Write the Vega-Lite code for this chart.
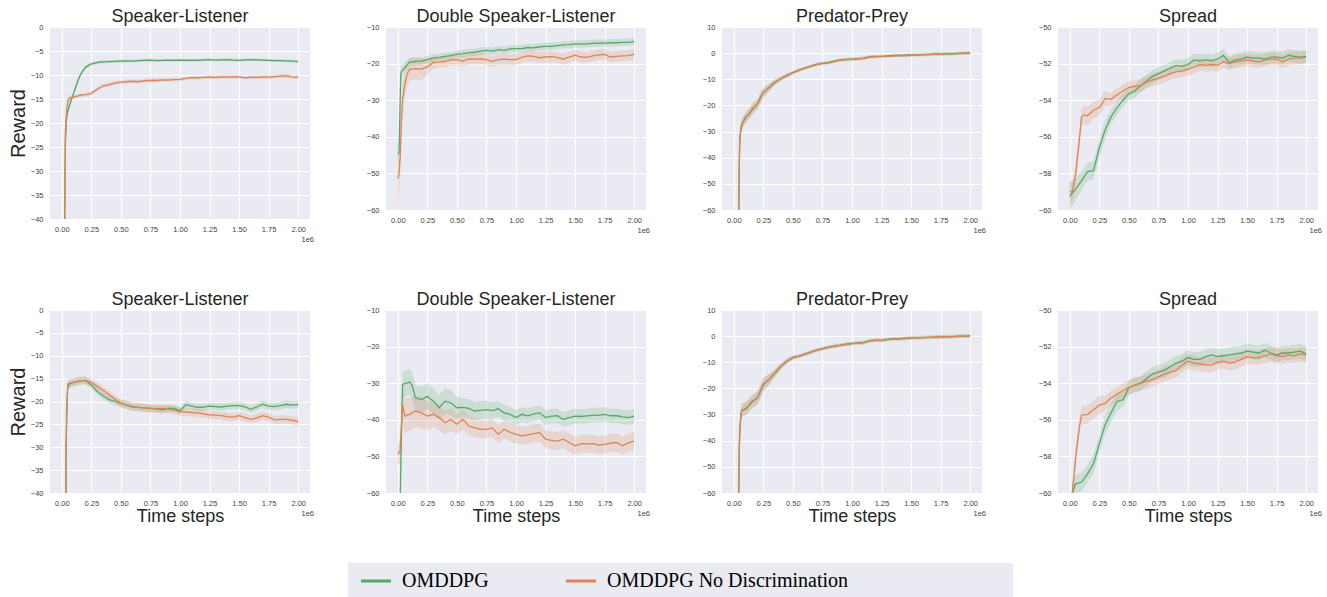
{
"$schema": "https://vega.github.io/schema/vega-lite/v6.json",
"background": "white",
"padding": {"left": 8, "top": 8, "right": 4, "bottom": 0},
"config": {
 "view": {"fill": "#EAEAF2", "stroke": null},
 "axis": {"grid": true, "gridColor": "#ffffff", "gridWidth": 1, "domain": false, "ticks": false, "labelOverlap": false, "labelFont": "Liberation Sans", "labelFontSize": 7.5, "labelColor": "#444444", "titleFont": "Liberation Sans", "titleFontWeight": "normal", "titleColor": "#262626"},
 "axisX": {"labelPadding": 6, "labelOverlap": false},
 "axisY": {"labelPadding": 7, "labelOverlap": false},
 "title": {"font": "Liberation Sans", "fontSize": 18, "fontWeight": "normal", "color": "#262626", "offset": -3, "baseline": "alphabetic", "frame": "group"},
 "legend": {"orient": "none", "legendX": 298, "legendY": 536, "direction": "horizontal", "fillColor": "#EAEAF2", "padding": 8, "symbolType": "M-1,0H5", "symbolSize": 100, "symbolStrokeWidth": 3, "symbolOpacity": 1, "labelFont": "Liberation Serif", "labelFontSize": 20, "labelColor": "#000000", "labelOffset": 26, "labelLimit": 400, "columnPadding": 71, "titleOrient": "right", "titlePadding": 157, "titleFontSize": 20, "titleFont": "Liberation Serif"}
},
"datasets": {"runs": [
{"p":1,"s":"A","x":0.02,"y":-55,"lo":-57,"hi":-53},
{"p":1,"s":"A","x":0.03,"y":-24,"lo":-26,"hi":-22},
{"p":1,"s":"A","x":0.04,"y":-19,"lo":-20.5,"hi":-17.5},
{"p":1,"s":"A","x":0.05,"y":-17.5,"lo":-18.5,"hi":-16.5},
{"p":1,"s":"A","x":0.07,"y":-15.9,"lo":-16.6,"hi":-15.2},
{"p":1,"s":"A","x":0.1,"y":-13.8,"lo":-14.4,"hi":-13.2},
{"p":1,"s":"A","x":0.13,"y":-11.6,"lo":-12.1,"hi":-11.1},
{"p":1,"s":"A","x":0.16,"y":-9.8,"lo":-10.2,"hi":-9.4},
{"p":1,"s":"A","x":0.2,"y":-8.4,"lo":-8.8,"hi":-8.0},
{"p":1,"s":"A","x":0.24,"y":-7.8,"lo":-8.1,"hi":-7.5},
{"p":1,"s":"A","x":0.28,"y":-7.5,"lo":-7.8,"hi":-7.2},
{"p":1,"s":"A","x":0.32,"y":-7.3,"lo":-7.6,"hi":-7.0},
{"p":1,"s":"A","x":0.36,"y":-7.25,"lo":-7.55,"hi":-6.95},
{"p":1,"s":"A","x":0.4,"y":-7.2,"lo":-7.5,"hi":-6.9},
{"p":1,"s":"A","x":0.45,"y":-7.15,"lo":-7.45,"hi":-6.85},
{"p":1,"s":"A","x":0.5,"y":-7.1,"lo":-7.4,"hi":-6.8},
{"p":1,"s":"A","x":0.55,"y":-7.05,"lo":-7.35,"hi":-6.75},
{"p":1,"s":"A","x":0.6,"y":-7.1,"lo":-7.4,"hi":-6.8},
{"p":1,"s":"A","x":0.65,"y":-7.0,"lo":-7.3,"hi":-6.7},
{"p":1,"s":"A","x":0.7,"y":-6.95,"lo":-7.25,"hi":-6.65},
{"p":1,"s":"A","x":0.75,"y":-6.9,"lo":-7.2,"hi":-6.6},
{"p":1,"s":"A","x":0.8,"y":-7.0,"lo":-7.3,"hi":-6.7},
{"p":1,"s":"A","x":0.85,"y":-6.95,"lo":-7.25,"hi":-6.65},
{"p":1,"s":"A","x":0.9,"y":-6.9,"lo":-7.2,"hi":-6.6},
{"p":1,"s":"A","x":0.95,"y":-6.95,"lo":-7.25,"hi":-6.65},
{"p":1,"s":"A","x":1.0,"y":-6.9,"lo":-7.2,"hi":-6.6},
{"p":1,"s":"A","x":1.05,"y":-6.95,"lo":-7.25,"hi":-6.65},
{"p":1,"s":"A","x":1.1,"y":-6.9,"lo":-7.2,"hi":-6.6},
{"p":1,"s":"A","x":1.15,"y":-6.95,"lo":-7.25,"hi":-6.65},
{"p":1,"s":"A","x":1.2,"y":-6.85,"lo":-7.15,"hi":-6.55},
{"p":1,"s":"A","x":1.25,"y":-6.8,"lo":-7.1,"hi":-6.5},
{"p":1,"s":"A","x":1.3,"y":-6.9,"lo":-7.2,"hi":-6.6},
{"p":1,"s":"A","x":1.35,"y":-6.85,"lo":-7.15,"hi":-6.55},
{"p":1,"s":"A","x":1.4,"y":-6.8,"lo":-7.1,"hi":-6.5},
{"p":1,"s":"A","x":1.45,"y":-6.9,"lo":-7.2,"hi":-6.6},
{"p":1,"s":"A","x":1.5,"y":-6.95,"lo":-7.25,"hi":-6.65},
{"p":1,"s":"A","x":1.55,"y":-6.85,"lo":-7.15,"hi":-6.55},
{"p":1,"s":"A","x":1.6,"y":-6.8,"lo":-7.1,"hi":-6.5},
{"p":1,"s":"A","x":1.65,"y":-6.85,"lo":-7.15,"hi":-6.55},
{"p":1,"s":"A","x":1.7,"y":-6.9,"lo":-7.2,"hi":-6.6},
{"p":1,"s":"A","x":1.75,"y":-6.95,"lo":-7.25,"hi":-6.65},
{"p":1,"s":"A","x":1.8,"y":-7.0,"lo":-7.3,"hi":-6.7},
{"p":1,"s":"A","x":1.85,"y":-7.0,"lo":-7.3,"hi":-6.7},
{"p":1,"s":"A","x":1.9,"y":-7.05,"lo":-7.35,"hi":-6.75},
{"p":1,"s":"A","x":1.95,"y":-7.1,"lo":-7.4,"hi":-6.8},
{"p":1,"s":"A","x":2.0,"y":-7.2,"lo":-7.5,"hi":-6.9},
{"p":1,"s":"B","x":0.02,"y":-55,"lo":-57,"hi":-53},
{"p":1,"s":"B","x":0.03,"y":-22,"lo":-24,"hi":-20},
{"p":1,"s":"B","x":0.04,"y":-17.5,"lo":-18.7,"hi":-16.3},
{"p":1,"s":"B","x":0.05,"y":-15.5,"lo":-16.3,"hi":-14.7},
{"p":1,"s":"B","x":0.06,"y":-14.9,"lo":-15.5,"hi":-14.3},
{"p":1,"s":"B","x":0.08,"y":-14.7,"lo":-15.2,"hi":-14.2},
{"p":1,"s":"B","x":0.1,"y":-14.6,"lo":-15.0,"hi":-14.2},
{"p":1,"s":"B","x":0.13,"y":-14.4,"lo":-14.8,"hi":-14.0},
{"p":1,"s":"B","x":0.16,"y":-14.2,"lo":-14.6,"hi":-13.8},
{"p":1,"s":"B","x":0.2,"y":-14.1,"lo":-14.5,"hi":-13.7},
{"p":1,"s":"B","x":0.23,"y":-14.0,"lo":-14.4,"hi":-13.6},
{"p":1,"s":"B","x":0.25,"y":-13.8,"lo":-14.2,"hi":-13.4},
{"p":1,"s":"B","x":0.28,"y":-13.3,"lo":-13.7,"hi":-12.9},
{"p":1,"s":"B","x":0.31,"y":-12.8,"lo":-13.2,"hi":-12.4},
{"p":1,"s":"B","x":0.35,"y":-12.3,"lo":-12.7,"hi":-11.9},
{"p":1,"s":"B","x":0.4,"y":-12.0,"lo":-12.4,"hi":-11.6},
{"p":1,"s":"B","x":0.45,"y":-11.7,"lo":-12.1,"hi":-11.3},
{"p":1,"s":"B","x":0.5,"y":-11.5,"lo":-11.9,"hi":-11.1},
{"p":1,"s":"B","x":0.55,"y":-11.4,"lo":-11.8,"hi":-11.0},
{"p":1,"s":"B","x":0.6,"y":-11.3,"lo":-11.7,"hi":-10.9},
{"p":1,"s":"B","x":0.65,"y":-11.4,"lo":-11.8,"hi":-11.0},
{"p":1,"s":"B","x":0.7,"y":-11.2,"lo":-11.6,"hi":-10.8},
{"p":1,"s":"B","x":0.75,"y":-11.1,"lo":-11.5,"hi":-10.7},
{"p":1,"s":"B","x":0.8,"y":-11.15,"lo":-11.55,"hi":-10.75},
{"p":1,"s":"B","x":0.85,"y":-11.0,"lo":-11.4,"hi":-10.6},
{"p":1,"s":"B","x":0.9,"y":-11.05,"lo":-11.45,"hi":-10.65},
{"p":1,"s":"B","x":0.95,"y":-10.95,"lo":-11.35,"hi":-10.55},
{"p":1,"s":"B","x":1.0,"y":-10.9,"lo":-11.3,"hi":-10.5},
{"p":1,"s":"B","x":1.05,"y":-10.7,"lo":-11.1,"hi":-10.3},
{"p":1,"s":"B","x":1.1,"y":-10.55,"lo":-10.95,"hi":-10.15},
{"p":1,"s":"B","x":1.15,"y":-10.6,"lo":-11.0,"hi":-10.2},
{"p":1,"s":"B","x":1.2,"y":-10.5,"lo":-10.9,"hi":-10.1},
{"p":1,"s":"B","x":1.25,"y":-10.45,"lo":-10.85,"hi":-10.05},
{"p":1,"s":"B","x":1.3,"y":-10.5,"lo":-10.9,"hi":-10.1},
{"p":1,"s":"B","x":1.35,"y":-10.4,"lo":-10.8,"hi":-10.0},
{"p":1,"s":"B","x":1.4,"y":-10.45,"lo":-10.85,"hi":-10.05},
{"p":1,"s":"B","x":1.45,"y":-10.35,"lo":-10.75,"hi":-9.95},
{"p":1,"s":"B","x":1.5,"y":-10.4,"lo":-10.8,"hi":-10.0},
{"p":1,"s":"B","x":1.55,"y":-10.6,"lo":-11.0,"hi":-10.2},
{"p":1,"s":"B","x":1.6,"y":-10.45,"lo":-10.85,"hi":-10.05},
{"p":1,"s":"B","x":1.65,"y":-10.5,"lo":-10.9,"hi":-10.1},
{"p":1,"s":"B","x":1.7,"y":-10.4,"lo":-10.8,"hi":-10.0},
{"p":1,"s":"B","x":1.75,"y":-10.45,"lo":-10.85,"hi":-10.05},
{"p":1,"s":"B","x":1.8,"y":-10.35,"lo":-10.75,"hi":-9.95},
{"p":1,"s":"B","x":1.85,"y":-10.25,"lo":-10.65,"hi":-9.85},
{"p":1,"s":"B","x":1.9,"y":-10.2,"lo":-10.6,"hi":-9.8},
{"p":1,"s":"B","x":1.95,"y":-10.4,"lo":-10.8,"hi":-10.0},
{"p":1,"s":"B","x":2.0,"y":-10.5,"lo":-10.9,"hi":-10.1},
{"p":2,"s":"A","x":0.0,"y":-44.8,"lo":-47.8,"hi":-41.8},
{"p":2,"s":"A","x":0.01,"y":-44.5,"lo":-47.5,"hi":-41.5},
{"p":2,"s":"A","x":0.02,"y":-30,"lo":-33,"hi":-27},
{"p":2,"s":"A","x":0.025,"y":-23,"lo":-25,"hi":-21},
{"p":2,"s":"A","x":0.03,"y":-22.2,"lo":-24,"hi":-20.4},
{"p":2,"s":"A","x":0.05,"y":-21.5,"lo":-23,"hi":-20},
{"p":2,"s":"A","x":0.07,"y":-20.6,"lo":-21.8,"hi":-19.4},
{"p":2,"s":"A","x":0.1,"y":-19.6,"lo":-20.8,"hi":-18.4},
{"p":2,"s":"A","x":0.15,"y":-19.4,"lo":-20.5,"hi":-18.3},
{"p":2,"s":"A","x":0.2,"y":-19.3,"lo":-20.3,"hi":-18.3},
{"p":2,"s":"A","x":0.25,"y":-18.9,"lo":-19.9,"hi":-17.9},
{"p":2,"s":"A","x":0.3,"y":-18.5,"lo":-19.5,"hi":-17.5},
{"p":2,"s":"A","x":0.35,"y":-18.3,"lo":-19.3,"hi":-17.3},
{"p":2,"s":"A","x":0.4,"y":-18.0,"lo":-19.0,"hi":-17.0},
{"p":2,"s":"A","x":0.45,"y":-17.8,"lo":-18.8,"hi":-16.8},
{"p":2,"s":"A","x":0.5,"y":-17.4,"lo":-18.4,"hi":-16.4},
{"p":2,"s":"A","x":0.55,"y":-17.3,"lo":-18.3,"hi":-16.3},
{"p":2,"s":"A","x":0.6,"y":-17.0,"lo":-18.0,"hi":-16.0},
{"p":2,"s":"A","x":0.65,"y":-16.9,"lo":-17.9,"hi":-15.9},
{"p":2,"s":"A","x":0.7,"y":-16.6,"lo":-17.6,"hi":-15.6},
{"p":2,"s":"A","x":0.75,"y":-16.4,"lo":-17.4,"hi":-15.4},
{"p":2,"s":"A","x":0.8,"y":-16.6,"lo":-17.6,"hi":-15.6},
{"p":2,"s":"A","x":0.85,"y":-16.2,"lo":-17.2,"hi":-15.2},
{"p":2,"s":"A","x":0.9,"y":-16.4,"lo":-17.4,"hi":-15.4},
{"p":2,"s":"A","x":0.95,"y":-16.0,"lo":-17.0,"hi":-15.0},
{"p":2,"s":"A","x":1.0,"y":-15.9,"lo":-16.9,"hi":-14.9},
{"p":2,"s":"A","x":1.05,"y":-15.9,"lo":-16.9,"hi":-14.9},
{"p":2,"s":"A","x":1.1,"y":-15.6,"lo":-16.6,"hi":-14.6},
{"p":2,"s":"A","x":1.15,"y":-15.7,"lo":-16.7,"hi":-14.7},
{"p":2,"s":"A","x":1.2,"y":-15.4,"lo":-16.4,"hi":-14.4},
{"p":2,"s":"A","x":1.25,"y":-15.3,"lo":-16.3,"hi":-14.3},
{"p":2,"s":"A","x":1.3,"y":-15.3,"lo":-16.3,"hi":-14.3},
{"p":2,"s":"A","x":1.35,"y":-15.1,"lo":-16.1,"hi":-14.1},
{"p":2,"s":"A","x":1.4,"y":-14.9,"lo":-15.9,"hi":-13.9},
{"p":2,"s":"A","x":1.45,"y":-14.8,"lo":-15.8,"hi":-13.8},
{"p":2,"s":"A","x":1.5,"y":-14.6,"lo":-15.6,"hi":-13.6},
{"p":2,"s":"A","x":1.55,"y":-14.7,"lo":-15.7,"hi":-13.7},
{"p":2,"s":"A","x":1.6,"y":-14.6,"lo":-15.6,"hi":-13.6},
{"p":2,"s":"A","x":1.65,"y":-14.5,"lo":-15.5,"hi":-13.5},
{"p":2,"s":"A","x":1.7,"y":-14.4,"lo":-15.4,"hi":-13.4},
{"p":2,"s":"A","x":1.75,"y":-14.4,"lo":-15.4,"hi":-13.4},
{"p":2,"s":"A","x":1.8,"y":-14.3,"lo":-15.3,"hi":-13.3},
{"p":2,"s":"A","x":1.85,"y":-14.3,"lo":-15.3,"hi":-13.3},
{"p":2,"s":"A","x":1.9,"y":-14.2,"lo":-15.2,"hi":-13.2},
{"p":2,"s":"A","x":1.95,"y":-14.2,"lo":-15.2,"hi":-13.2},
{"p":2,"s":"A","x":2.0,"y":-14.0,"lo":-15.0,"hi":-13.0},
{"p":2,"s":"B","x":0.0,"y":-51.4,"lo":-60,"hi":-45},
{"p":2,"s":"B","x":0.01,"y":-50,"lo":-58,"hi":-43},
{"p":2,"s":"B","x":0.02,"y":-45.5,"lo":-52,"hi":-39},
{"p":2,"s":"B","x":0.03,"y":-36,"lo":-42,"hi":-30},
{"p":2,"s":"B","x":0.04,"y":-30,"lo":-35,"hi":-25},
{"p":2,"s":"B","x":0.06,"y":-25.5,"lo":-29,"hi":-22},
{"p":2,"s":"B","x":0.08,"y":-22.8,"lo":-26,"hi":-19.6},
{"p":2,"s":"B","x":0.1,"y":-21.6,"lo":-24.6,"hi":-18.6},
{"p":2,"s":"B","x":0.15,"y":-21.4,"lo":-24.4,"hi":-18.4},
{"p":2,"s":"B","x":0.2,"y":-21.5,"lo":-24.5,"hi":-18.5},
{"p":2,"s":"B","x":0.25,"y":-20.9,"lo":-23,"hi":-18.8},
{"p":2,"s":"B","x":0.28,"y":-20.2,"lo":-22,"hi":-18.4},
{"p":2,"s":"B","x":0.3,"y":-19.7,"lo":-21.5,"hi":-17.9},
{"p":2,"s":"B","x":0.35,"y":-19.6,"lo":-21.1,"hi":-18.1},
{"p":2,"s":"B","x":0.4,"y":-19.4,"lo":-20.9,"hi":-17.9},
{"p":2,"s":"B","x":0.45,"y":-19.0,"lo":-20.5,"hi":-17.5},
{"p":2,"s":"B","x":0.5,"y":-18.9,"lo":-20.4,"hi":-17.4},
{"p":2,"s":"B","x":0.55,"y":-19.3,"lo":-20.8,"hi":-17.8},
{"p":2,"s":"B","x":0.6,"y":-18.7,"lo":-20.2,"hi":-17.2},
{"p":2,"s":"B","x":0.65,"y":-18.8,"lo":-20.3,"hi":-17.3},
{"p":2,"s":"B","x":0.7,"y":-18.7,"lo":-20.2,"hi":-17.2},
{"p":2,"s":"B","x":0.75,"y":-18.9,"lo":-20.4,"hi":-17.4},
{"p":2,"s":"B","x":0.8,"y":-19.4,"lo":-20.9,"hi":-17.9},
{"p":2,"s":"B","x":0.85,"y":-18.9,"lo":-20.4,"hi":-17.4},
{"p":2,"s":"B","x":0.9,"y":-18.8,"lo":-20.3,"hi":-17.3},
{"p":2,"s":"B","x":0.95,"y":-18.9,"lo":-20.4,"hi":-17.4},
{"p":2,"s":"B","x":1.0,"y":-18.9,"lo":-20.4,"hi":-17.4},
{"p":2,"s":"B","x":1.05,"y":-18.3,"lo":-19.8,"hi":-16.8},
{"p":2,"s":"B","x":1.1,"y":-17.9,"lo":-19.4,"hi":-16.4},
{"p":2,"s":"B","x":1.15,"y":-18.0,"lo":-19.5,"hi":-16.5},
{"p":2,"s":"B","x":1.2,"y":-18.4,"lo":-19.9,"hi":-16.9},
{"p":2,"s":"B","x":1.25,"y":-18.2,"lo":-19.7,"hi":-16.7},
{"p":2,"s":"B","x":1.3,"y":-18.1,"lo":-19.6,"hi":-16.6},
{"p":2,"s":"B","x":1.35,"y":-18.3,"lo":-19.8,"hi":-16.8},
{"p":2,"s":"B","x":1.4,"y":-18.8,"lo":-20.3,"hi":-17.3},
{"p":2,"s":"B","x":1.45,"y":-18.2,"lo":-19.7,"hi":-16.7},
{"p":2,"s":"B","x":1.5,"y":-17.7,"lo":-19.2,"hi":-16.2},
{"p":2,"s":"B","x":1.55,"y":-18.2,"lo":-19.7,"hi":-16.7},
{"p":2,"s":"B","x":1.6,"y":-18.3,"lo":-19.8,"hi":-16.8},
{"p":2,"s":"B","x":1.65,"y":-17.9,"lo":-19.4,"hi":-16.4},
{"p":2,"s":"B","x":1.7,"y":-17.6,"lo":-19.1,"hi":-16.1},
{"p":2,"s":"B","x":1.75,"y":-17.5,"lo":-19.0,"hi":-16.0},
{"p":2,"s":"B","x":1.8,"y":-18.2,"lo":-19.7,"hi":-16.7},
{"p":2,"s":"B","x":1.85,"y":-18.0,"lo":-19.5,"hi":-16.5},
{"p":2,"s":"B","x":1.9,"y":-17.9,"lo":-19.4,"hi":-16.4},
{"p":2,"s":"B","x":1.95,"y":-17.8,"lo":-19.3,"hi":-16.3},
{"p":2,"s":"B","x":2.0,"y":-17.5,"lo":-19.0,"hi":-16.0},
{"p":3,"s":"A","x":0.04,"y":-70,"lo":-72,"hi":-68},
{"p":3,"s":"A","x":0.045,"y":-45,"lo":-48,"hi":-42},
{"p":3,"s":"A","x":0.05,"y":-33,"lo":-36,"hi":-30},
{"p":3,"s":"A","x":0.06,"y":-28.5,"lo":-30.5,"hi":-26.5},
{"p":3,"s":"A","x":0.07,"y":-27,"lo":-29,"hi":-25},
{"p":3,"s":"A","x":0.1,"y":-24.5,"lo":-26.5,"hi":-22.5},
{"p":3,"s":"A","x":0.13,"y":-23.3,"lo":-25.3,"hi":-21.3},
{"p":3,"s":"A","x":0.16,"y":-21.4,"lo":-23.4,"hi":-19.4},
{"p":3,"s":"A","x":0.2,"y":-19.4,"lo":-21.4,"hi":-17.4},
{"p":3,"s":"A","x":0.23,"y":-16.5,"lo":-18.5,"hi":-14.5},
{"p":3,"s":"A","x":0.25,"y":-15.2,"lo":-17,"hi":-13.4},
{"p":3,"s":"A","x":0.3,"y":-13,"lo":-14.5,"hi":-11.5},
{"p":3,"s":"A","x":0.35,"y":-11.1,"lo":-12.2,"hi":-10},
{"p":3,"s":"A","x":0.4,"y":-9.7,"lo":-10.6,"hi":-8.8},
{"p":3,"s":"A","x":0.45,"y":-8.5,"lo":-9.3,"hi":-7.7},
{"p":3,"s":"A","x":0.5,"y":-7.4,"lo":-8.1,"hi":-6.7},
{"p":3,"s":"A","x":0.55,"y":-6.6,"lo":-7.2,"hi":-6.0},
{"p":3,"s":"A","x":0.6,"y":-5.7,"lo":-6.3,"hi":-5.1},
{"p":3,"s":"A","x":0.65,"y":-5.0,"lo":-5.6,"hi":-4.4},
{"p":3,"s":"A","x":0.7,"y":-4.3,"lo":-4.9,"hi":-3.7},
{"p":3,"s":"A","x":0.75,"y":-3.9,"lo":-4.5,"hi":-3.3},
{"p":3,"s":"A","x":0.8,"y":-3.6,"lo":-4.2,"hi":-3.0},
{"p":3,"s":"A","x":0.85,"y":-3.1,"lo":-3.7,"hi":-2.5},
{"p":3,"s":"A","x":0.9,"y":-2.6,"lo":-3.2,"hi":-2.0},
{"p":3,"s":"A","x":0.95,"y":-2.5,"lo":-3.1,"hi":-1.9},
{"p":3,"s":"A","x":1.0,"y":-2.3,"lo":-2.9,"hi":-1.7},
{"p":3,"s":"A","x":1.05,"y":-2.2,"lo":-2.8,"hi":-1.6},
{"p":3,"s":"A","x":1.1,"y":-1.9,"lo":-2.5,"hi":-1.3},
{"p":3,"s":"A","x":1.15,"y":-1.4,"lo":-2.0,"hi":-0.8},
{"p":3,"s":"A","x":1.2,"y":-1.3,"lo":-1.9,"hi":-0.7},
{"p":3,"s":"A","x":1.25,"y":-1.3,"lo":-1.9,"hi":-0.7},
{"p":3,"s":"A","x":1.3,"y":-1.1,"lo":-1.7,"hi":-0.5},
{"p":3,"s":"A","x":1.35,"y":-0.9,"lo":-1.5,"hi":-0.3},
{"p":3,"s":"A","x":1.4,"y":-0.9,"lo":-1.5,"hi":-0.3},
{"p":3,"s":"A","x":1.45,"y":-0.8,"lo":-1.4,"hi":-0.2},
{"p":3,"s":"A","x":1.5,"y":-0.7,"lo":-1.3,"hi":-0.1},
{"p":3,"s":"A","x":1.55,"y":-0.7,"lo":-1.3,"hi":-0.1},
{"p":3,"s":"A","x":1.6,"y":-0.6,"lo":-1.2,"hi":0.0},
{"p":3,"s":"A","x":1.65,"y":-0.5,"lo":-1.1,"hi":0.1},
{"p":3,"s":"A","x":1.7,"y":-0.4,"lo":-1.0,"hi":0.2},
{"p":3,"s":"A","x":1.75,"y":-0.4,"lo":-1.0,"hi":0.2},
{"p":3,"s":"A","x":1.8,"y":-0.3,"lo":-0.9,"hi":0.3},
{"p":3,"s":"A","x":1.85,"y":-0.3,"lo":-0.9,"hi":0.3},
{"p":3,"s":"A","x":1.9,"y":-0.1,"lo":-0.7,"hi":0.5},
{"p":3,"s":"A","x":1.95,"y":-0.1,"lo":-0.7,"hi":0.5},
{"p":3,"s":"A","x":2.0,"y":0.1,"lo":-0.5,"hi":0.7},
{"p":3,"s":"B","x":0.04,"y":-70,"lo":-72,"hi":-68},
{"p":3,"s":"B","x":0.045,"y":-46,"lo":-49,"hi":-43},
{"p":3,"s":"B","x":0.05,"y":-34,"lo":-37,"hi":-31},
{"p":3,"s":"B","x":0.06,"y":-28.8,"lo":-30.8,"hi":-26.8},
{"p":3,"s":"B","x":0.07,"y":-27.2,"lo":-29.2,"hi":-25.2},
{"p":3,"s":"B","x":0.1,"y":-24.8,"lo":-26.8,"hi":-22.8},
{"p":3,"s":"B","x":0.13,"y":-23.0,"lo":-25,"hi":-21},
{"p":3,"s":"B","x":0.16,"y":-21.0,"lo":-23,"hi":-19},
{"p":3,"s":"B","x":0.2,"y":-19.6,"lo":-21.6,"hi":-17.6},
{"p":3,"s":"B","x":0.23,"y":-16.8,"lo":-18.8,"hi":-14.8},
{"p":3,"s":"B","x":0.25,"y":-15.0,"lo":-16.8,"hi":-13.2},
{"p":3,"s":"B","x":0.3,"y":-13.2,"lo":-14.7,"hi":-11.7},
{"p":3,"s":"B","x":0.35,"y":-11.0,"lo":-12.1,"hi":-9.9},
{"p":3,"s":"B","x":0.4,"y":-9.8,"lo":-10.7,"hi":-8.9},
{"p":3,"s":"B","x":0.45,"y":-8.6,"lo":-9.4,"hi":-7.8},
{"p":3,"s":"B","x":0.5,"y":-7.5,"lo":-8.2,"hi":-6.8},
{"p":3,"s":"B","x":0.55,"y":-6.5,"lo":-7.1,"hi":-5.9},
{"p":3,"s":"B","x":0.6,"y":-5.8,"lo":-6.4,"hi":-5.2},
{"p":3,"s":"B","x":0.65,"y":-5.1,"lo":-5.7,"hi":-4.5},
{"p":3,"s":"B","x":0.7,"y":-4.4,"lo":-5.0,"hi":-3.8},
{"p":3,"s":"B","x":0.75,"y":-3.9,"lo":-4.5,"hi":-3.3},
{"p":3,"s":"B","x":0.8,"y":-3.7,"lo":-4.3,"hi":-3.1},
{"p":3,"s":"B","x":0.85,"y":-3.2,"lo":-3.8,"hi":-2.6},
{"p":3,"s":"B","x":0.9,"y":-2.7,"lo":-3.3,"hi":-2.1},
{"p":3,"s":"B","x":0.95,"y":-2.4,"lo":-3.0,"hi":-1.8},
{"p":3,"s":"B","x":1.0,"y":-2.4,"lo":-3.0,"hi":-1.8},
{"p":3,"s":"B","x":1.05,"y":-2.2,"lo":-2.8,"hi":-1.6},
{"p":3,"s":"B","x":1.1,"y":-2.0,"lo":-2.6,"hi":-1.4},
{"p":3,"s":"B","x":1.15,"y":-1.5,"lo":-2.1,"hi":-0.9},
{"p":3,"s":"B","x":1.2,"y":-1.3,"lo":-1.9,"hi":-0.7},
{"p":3,"s":"B","x":1.25,"y":-1.2,"lo":-1.8,"hi":-0.6},
{"p":3,"s":"B","x":1.3,"y":-1.2,"lo":-1.8,"hi":-0.6},
{"p":3,"s":"B","x":1.35,"y":-1.0,"lo":-1.6,"hi":-0.4},
{"p":3,"s":"B","x":1.4,"y":-0.9,"lo":-1.5,"hi":-0.3},
{"p":3,"s":"B","x":1.45,"y":-0.9,"lo":-1.5,"hi":-0.3},
{"p":3,"s":"B","x":1.5,"y":-0.8,"lo":-1.4,"hi":-0.2},
{"p":3,"s":"B","x":1.55,"y":-0.7,"lo":-1.3,"hi":-0.1},
{"p":3,"s":"B","x":1.6,"y":-0.6,"lo":-1.2,"hi":0.0},
{"p":3,"s":"B","x":1.65,"y":-0.6,"lo":-1.2,"hi":0.0},
{"p":3,"s":"B","x":1.7,"y":-0.4,"lo":-1.0,"hi":0.2},
{"p":3,"s":"B","x":1.75,"y":-0.4,"lo":-1.0,"hi":0.2},
{"p":3,"s":"B","x":1.8,"y":-0.3,"lo":-0.9,"hi":0.3},
{"p":3,"s":"B","x":1.85,"y":-0.2,"lo":-0.8,"hi":0.4},
{"p":3,"s":"B","x":1.9,"y":-0.2,"lo":-0.8,"hi":0.4},
{"p":3,"s":"B","x":1.95,"y":0.0,"lo":-0.6,"hi":0.6},
{"p":3,"s":"B","x":2.0,"y":0.0,"lo":-0.6,"hi":0.6},
{"p":4,"s":"A","x":0.0,"y":-59.25,"lo":-60.05,"hi":-58.45},
{"p":4,"s":"A","x":0.05,"y":-58.85,"lo":-59.45,"hi":-58.25},
{"p":4,"s":"A","x":0.1,"y":-58.4,"lo":-58.9,"hi":-57.9},
{"p":4,"s":"A","x":0.15,"y":-57.9,"lo":-58.4,"hi":-57.4},
{"p":4,"s":"A","x":0.2,"y":-57.85,"lo":-58.35,"hi":-57.35},
{"p":4,"s":"A","x":0.25,"y":-56.6,"lo":-57.1,"hi":-56.1},
{"p":4,"s":"A","x":0.3,"y":-55.6,"lo":-56.1,"hi":-55.1},
{"p":4,"s":"A","x":0.35,"y":-54.9,"lo":-55.3,"hi":-54.5},
{"p":4,"s":"A","x":0.4,"y":-54.4,"lo":-54.8,"hi":-54.0},
{"p":4,"s":"A","x":0.45,"y":-54.0,"lo":-54.35,"hi":-53.65},
{"p":4,"s":"A","x":0.5,"y":-53.65,"lo":-54.0,"hi":-53.3},
{"p":4,"s":"A","x":0.55,"y":-53.5,"lo":-53.85,"hi":-53.15},
{"p":4,"s":"A","x":0.6,"y":-53.2,"lo":-53.55,"hi":-52.85},
{"p":4,"s":"A","x":0.65,"y":-52.95,"lo":-53.3,"hi":-52.6},
{"p":4,"s":"A","x":0.7,"y":-52.7,"lo":-53.05,"hi":-52.35},
{"p":4,"s":"A","x":0.75,"y":-52.55,"lo":-52.9,"hi":-52.2},
{"p":4,"s":"A","x":0.8,"y":-52.4,"lo":-52.75,"hi":-52.05},
{"p":4,"s":"A","x":0.85,"y":-52.25,"lo":-52.6,"hi":-51.9},
{"p":4,"s":"A","x":0.9,"y":-52.1,"lo":-52.45,"hi":-51.75},
{"p":4,"s":"A","x":0.95,"y":-52.15,"lo":-52.5,"hi":-51.8},
{"p":4,"s":"A","x":1.0,"y":-52.05,"lo":-52.4,"hi":-51.7},
{"p":4,"s":"A","x":1.05,"y":-51.8,"lo":-52.15,"hi":-51.45},
{"p":4,"s":"A","x":1.1,"y":-51.85,"lo":-52.2,"hi":-51.5},
{"p":4,"s":"A","x":1.15,"y":-51.8,"lo":-52.15,"hi":-51.45},
{"p":4,"s":"A","x":1.2,"y":-51.85,"lo":-52.2,"hi":-51.5},
{"p":4,"s":"A","x":1.25,"y":-51.75,"lo":-52.1,"hi":-51.4},
{"p":4,"s":"A","x":1.3,"y":-51.55,"lo":-51.9,"hi":-51.2},
{"p":4,"s":"A","x":1.35,"y":-51.95,"lo":-52.3,"hi":-51.6},
{"p":4,"s":"A","x":1.4,"y":-51.8,"lo":-52.15,"hi":-51.45},
{"p":4,"s":"A","x":1.45,"y":-51.75,"lo":-52.1,"hi":-51.4},
{"p":4,"s":"A","x":1.5,"y":-51.65,"lo":-52.0,"hi":-51.3},
{"p":4,"s":"A","x":1.55,"y":-51.7,"lo":-52.05,"hi":-51.35},
{"p":4,"s":"A","x":1.6,"y":-51.7,"lo":-52.05,"hi":-51.35},
{"p":4,"s":"A","x":1.65,"y":-51.75,"lo":-52.1,"hi":-51.4},
{"p":4,"s":"A","x":1.7,"y":-51.65,"lo":-52.0,"hi":-51.3},
{"p":4,"s":"A","x":1.75,"y":-51.65,"lo":-52.0,"hi":-51.3},
{"p":4,"s":"A","x":1.8,"y":-51.7,"lo":-52.05,"hi":-51.35},
{"p":4,"s":"A","x":1.85,"y":-51.55,"lo":-51.9,"hi":-51.2},
{"p":4,"s":"A","x":1.9,"y":-51.6,"lo":-51.95,"hi":-51.25},
{"p":4,"s":"A","x":1.95,"y":-51.65,"lo":-52.0,"hi":-51.3},
{"p":4,"s":"A","x":2.0,"y":-51.6,"lo":-51.95,"hi":-51.25},
{"p":4,"s":"B","x":0.0,"y":-58.98,"lo":-59.6,"hi":-58.4},
{"p":4,"s":"B","x":0.02,"y":-59.03,"lo":-59.6,"hi":-58.5},
{"p":4,"s":"B","x":0.05,"y":-58.0,"lo":-58.6,"hi":-57.4},
{"p":4,"s":"B","x":0.08,"y":-56.2,"lo":-56.8,"hi":-55.6},
{"p":4,"s":"B","x":0.1,"y":-54.9,"lo":-55.4,"hi":-54.4},
{"p":4,"s":"B","x":0.12,"y":-54.8,"lo":-55.3,"hi":-54.3},
{"p":4,"s":"B","x":0.15,"y":-54.85,"lo":-55.35,"hi":-54.35},
{"p":4,"s":"B","x":0.2,"y":-54.55,"lo":-55.0,"hi":-54.1},
{"p":4,"s":"B","x":0.25,"y":-54.4,"lo":-54.85,"hi":-53.95},
{"p":4,"s":"B","x":0.3,"y":-53.9,"lo":-54.3,"hi":-53.5},
{"p":4,"s":"B","x":0.35,"y":-53.95,"lo":-54.3,"hi":-53.6},
{"p":4,"s":"B","x":0.4,"y":-53.7,"lo":-54.05,"hi":-53.35},
{"p":4,"s":"B","x":0.45,"y":-53.5,"lo":-53.85,"hi":-53.15},
{"p":4,"s":"B","x":0.5,"y":-53.3,"lo":-53.65,"hi":-52.95},
{"p":4,"s":"B","x":0.55,"y":-53.25,"lo":-53.6,"hi":-52.9},
{"p":4,"s":"B","x":0.6,"y":-53.2,"lo":-53.55,"hi":-52.85},
{"p":4,"s":"B","x":0.65,"y":-53.0,"lo":-53.35,"hi":-52.65},
{"p":4,"s":"B","x":0.7,"y":-52.9,"lo":-53.25,"hi":-52.55},
{"p":4,"s":"B","x":0.75,"y":-52.8,"lo":-53.15,"hi":-52.45},
{"p":4,"s":"B","x":0.8,"y":-52.7,"lo":-53.05,"hi":-52.35},
{"p":4,"s":"B","x":0.85,"y":-52.55,"lo":-52.9,"hi":-52.2},
{"p":4,"s":"B","x":0.9,"y":-52.45,"lo":-52.8,"hi":-52.1},
{"p":4,"s":"B","x":0.95,"y":-52.4,"lo":-52.75,"hi":-52.05},
{"p":4,"s":"B","x":1.0,"y":-52.3,"lo":-52.65,"hi":-51.95},
{"p":4,"s":"B","x":1.05,"y":-52.2,"lo":-52.55,"hi":-51.85},
{"p":4,"s":"B","x":1.1,"y":-52.05,"lo":-52.4,"hi":-51.7},
{"p":4,"s":"B","x":1.15,"y":-52.1,"lo":-52.45,"hi":-51.75},
{"p":4,"s":"B","x":1.2,"y":-52.05,"lo":-52.4,"hi":-51.7},
{"p":4,"s":"B","x":1.25,"y":-52.1,"lo":-52.45,"hi":-51.75},
{"p":4,"s":"B","x":1.3,"y":-51.9,"lo":-52.25,"hi":-51.55},
{"p":4,"s":"B","x":1.35,"y":-52.0,"lo":-52.35,"hi":-51.65},
{"p":4,"s":"B","x":1.4,"y":-51.9,"lo":-52.25,"hi":-51.55},
{"p":4,"s":"B","x":1.45,"y":-51.85,"lo":-52.2,"hi":-51.5},
{"p":4,"s":"B","x":1.5,"y":-51.8,"lo":-52.15,"hi":-51.45},
{"p":4,"s":"B","x":1.55,"y":-51.85,"lo":-52.2,"hi":-51.5},
{"p":4,"s":"B","x":1.6,"y":-51.9,"lo":-52.25,"hi":-51.55},
{"p":4,"s":"B","x":1.65,"y":-51.8,"lo":-52.15,"hi":-51.45},
{"p":4,"s":"B","x":1.7,"y":-51.75,"lo":-52.1,"hi":-51.4},
{"p":4,"s":"B","x":1.75,"y":-51.75,"lo":-52.1,"hi":-51.4},
{"p":4,"s":"B","x":1.8,"y":-51.9,"lo":-52.25,"hi":-51.55},
{"p":4,"s":"B","x":1.85,"y":-51.75,"lo":-52.1,"hi":-51.4},
{"p":4,"s":"B","x":1.9,"y":-51.7,"lo":-52.05,"hi":-51.35},
{"p":4,"s":"B","x":1.95,"y":-51.7,"lo":-52.05,"hi":-51.35},
{"p":4,"s":"B","x":2.0,"y":-51.65,"lo":-52.0,"hi":-51.3},
{"p":5,"s":"A","x":0.03,"y":-60,"lo":-61,"hi":-59},
{"p":5,"s":"A","x":0.04,"y":-22,"lo":-24,"hi":-20},
{"p":5,"s":"A","x":0.05,"y":-17,"lo":-18,"hi":-16},
{"p":5,"s":"A","x":0.06,"y":-16.2,"lo":-17,"hi":-15.4},
{"p":5,"s":"A","x":0.1,"y":-15.8,"lo":-16.6,"hi":-15.0},
{"p":5,"s":"A","x":0.15,"y":-15.5,"lo":-16.3,"hi":-14.7},
{"p":5,"s":"A","x":0.2,"y":-15.4,"lo":-16.2,"hi":-14.6},
{"p":5,"s":"A","x":0.25,"y":-16.4,"lo":-17.2,"hi":-15.6},
{"p":5,"s":"A","x":0.3,"y":-17.8,"lo":-18.6,"hi":-17.0},
{"p":5,"s":"A","x":0.35,"y":-18.8,"lo":-19.6,"hi":-18.0},
{"p":5,"s":"A","x":0.4,"y":-19.6,"lo":-20.4,"hi":-18.8},
{"p":5,"s":"A","x":0.45,"y":-20.0,"lo":-20.8,"hi":-19.2},
{"p":5,"s":"A","x":0.5,"y":-20.4,"lo":-21.2,"hi":-19.6},
{"p":5,"s":"A","x":0.55,"y":-20.8,"lo":-21.6,"hi":-20.0},
{"p":5,"s":"A","x":0.6,"y":-21.2,"lo":-22.0,"hi":-20.4},
{"p":5,"s":"A","x":0.65,"y":-21.3,"lo":-22.1,"hi":-20.5},
{"p":5,"s":"A","x":0.7,"y":-21.4,"lo":-22.2,"hi":-20.6},
{"p":5,"s":"A","x":0.75,"y":-21.5,"lo":-22.3,"hi":-20.7},
{"p":5,"s":"A","x":0.8,"y":-21.6,"lo":-22.4,"hi":-20.8},
{"p":5,"s":"A","x":0.85,"y":-21.8,"lo":-22.6,"hi":-21.0},
{"p":5,"s":"A","x":0.9,"y":-21.5,"lo":-22.3,"hi":-20.7},
{"p":5,"s":"A","x":0.95,"y":-21.5,"lo":-22.3,"hi":-20.7},
{"p":5,"s":"A","x":1.0,"y":-22.0,"lo":-22.8,"hi":-21.2},
{"p":5,"s":"A","x":1.05,"y":-20.7,"lo":-21.5,"hi":-19.9},
{"p":5,"s":"A","x":1.1,"y":-21.0,"lo":-21.8,"hi":-20.2},
{"p":5,"s":"A","x":1.15,"y":-21.3,"lo":-22.1,"hi":-20.5},
{"p":5,"s":"A","x":1.2,"y":-21.2,"lo":-22.0,"hi":-20.4},
{"p":5,"s":"A","x":1.25,"y":-21.0,"lo":-21.8,"hi":-20.2},
{"p":5,"s":"A","x":1.3,"y":-21.1,"lo":-21.9,"hi":-20.3},
{"p":5,"s":"A","x":1.35,"y":-21.2,"lo":-22.0,"hi":-20.4},
{"p":5,"s":"A","x":1.4,"y":-21.0,"lo":-21.8,"hi":-20.2},
{"p":5,"s":"A","x":1.45,"y":-20.9,"lo":-21.7,"hi":-20.1},
{"p":5,"s":"A","x":1.5,"y":-20.9,"lo":-21.7,"hi":-20.1},
{"p":5,"s":"A","x":1.55,"y":-21.2,"lo":-22.0,"hi":-20.4},
{"p":5,"s":"A","x":1.6,"y":-21.7,"lo":-22.5,"hi":-20.9},
{"p":5,"s":"A","x":1.65,"y":-21.2,"lo":-22.0,"hi":-20.4},
{"p":5,"s":"A","x":1.7,"y":-20.6,"lo":-21.4,"hi":-19.8},
{"p":5,"s":"A","x":1.75,"y":-21.0,"lo":-21.8,"hi":-20.2},
{"p":5,"s":"A","x":1.8,"y":-21.1,"lo":-21.9,"hi":-20.3},
{"p":5,"s":"A","x":1.85,"y":-20.9,"lo":-21.7,"hi":-20.1},
{"p":5,"s":"A","x":1.9,"y":-20.6,"lo":-21.4,"hi":-19.8},
{"p":5,"s":"A","x":1.95,"y":-20.8,"lo":-21.6,"hi":-20.0},
{"p":5,"s":"A","x":2.0,"y":-20.7,"lo":-21.5,"hi":-19.9},
{"p":5,"s":"B","x":0.03,"y":-60,"lo":-61,"hi":-59},
{"p":5,"s":"B","x":0.035,"y":-30,"lo":-33,"hi":-27},
{"p":5,"s":"B","x":0.05,"y":-16.1,"lo":-17.1,"hi":-15.1},
{"p":5,"s":"B","x":0.1,"y":-15.8,"lo":-16.7,"hi":-14.9},
{"p":5,"s":"B","x":0.15,"y":-15.5,"lo":-16.4,"hi":-14.6},
{"p":5,"s":"B","x":0.2,"y":-15.4,"lo":-16.3,"hi":-14.5},
{"p":5,"s":"B","x":0.25,"y":-15.8,"lo":-16.7,"hi":-14.9},
{"p":5,"s":"B","x":0.3,"y":-16.7,"lo":-17.6,"hi":-15.8},
{"p":5,"s":"B","x":0.35,"y":-17.6,"lo":-18.5,"hi":-16.7},
{"p":5,"s":"B","x":0.4,"y":-18.5,"lo":-19.4,"hi":-17.6},
{"p":5,"s":"B","x":0.45,"y":-19.5,"lo":-20.4,"hi":-18.6},
{"p":5,"s":"B","x":0.5,"y":-20.4,"lo":-21.3,"hi":-19.5},
{"p":5,"s":"B","x":0.55,"y":-20.8,"lo":-21.7,"hi":-19.9},
{"p":5,"s":"B","x":0.6,"y":-21.1,"lo":-22.0,"hi":-20.2},
{"p":5,"s":"B","x":0.65,"y":-21.3,"lo":-22.2,"hi":-20.4},
{"p":5,"s":"B","x":0.7,"y":-21.4,"lo":-22.3,"hi":-20.5},
{"p":5,"s":"B","x":0.75,"y":-21.5,"lo":-22.4,"hi":-20.6},
{"p":5,"s":"B","x":0.8,"y":-21.6,"lo":-22.5,"hi":-20.7},
{"p":5,"s":"B","x":0.85,"y":-21.5,"lo":-22.4,"hi":-20.6},
{"p":5,"s":"B","x":0.9,"y":-21.6,"lo":-22.5,"hi":-20.7},
{"p":5,"s":"B","x":0.95,"y":-21.9,"lo":-22.8,"hi":-21.0},
{"p":5,"s":"B","x":1.0,"y":-22.2,"lo":-23.1,"hi":-21.3},
{"p":5,"s":"B","x":1.05,"y":-22.3,"lo":-23.2,"hi":-21.4},
{"p":5,"s":"B","x":1.1,"y":-22.4,"lo":-23.3,"hi":-21.5},
{"p":5,"s":"B","x":1.15,"y":-22.5,"lo":-23.4,"hi":-21.6},
{"p":5,"s":"B","x":1.2,"y":-22.7,"lo":-23.6,"hi":-21.8},
{"p":5,"s":"B","x":1.25,"y":-22.9,"lo":-23.8,"hi":-22.0},
{"p":5,"s":"B","x":1.3,"y":-23.0,"lo":-23.9,"hi":-22.1},
{"p":5,"s":"B","x":1.35,"y":-23.1,"lo":-24.0,"hi":-22.2},
{"p":5,"s":"B","x":1.4,"y":-23.3,"lo":-24.2,"hi":-22.4},
{"p":5,"s":"B","x":1.45,"y":-23.4,"lo":-24.3,"hi":-22.5},
{"p":5,"s":"B","x":1.5,"y":-23.1,"lo":-24.0,"hi":-22.2},
{"p":5,"s":"B","x":1.55,"y":-23.5,"lo":-24.4,"hi":-22.6},
{"p":5,"s":"B","x":1.6,"y":-23.9,"lo":-24.8,"hi":-23.0},
{"p":5,"s":"B","x":1.65,"y":-23.6,"lo":-24.5,"hi":-22.7},
{"p":5,"s":"B","x":1.7,"y":-23.1,"lo":-24.0,"hi":-22.2},
{"p":5,"s":"B","x":1.75,"y":-23.4,"lo":-24.3,"hi":-22.5},
{"p":5,"s":"B","x":1.8,"y":-24.0,"lo":-24.9,"hi":-23.1},
{"p":5,"s":"B","x":1.85,"y":-23.9,"lo":-24.8,"hi":-23.0},
{"p":5,"s":"B","x":1.9,"y":-23.9,"lo":-24.8,"hi":-23.0},
{"p":5,"s":"B","x":1.95,"y":-24.1,"lo":-25.0,"hi":-23.2},
{"p":5,"s":"B","x":2.0,"y":-24.4,"lo":-25.3,"hi":-23.5},
{"p":6,"s":"A","x":0.02,"y":-62,"lo":-64,"hi":-60},
{"p":6,"s":"A","x":0.03,"y":-45,"lo":-50,"hi":-40},
{"p":6,"s":"A","x":0.04,"y":-30.4,"lo":-34,"hi":-26.8},
{"p":6,"s":"A","x":0.05,"y":-30.2,"lo":-33.7,"hi":-26.7},
{"p":6,"s":"A","x":0.075,"y":-30.0,"lo":-33.5,"hi":-26.5},
{"p":6,"s":"A","x":0.1,"y":-29.7,"lo":-33.2,"hi":-26.2},
{"p":6,"s":"A","x":0.12,"y":-30.5,"lo":-34,"hi":-27},
{"p":6,"s":"A","x":0.15,"y":-34,"lo":-37.5,"hi":-30.5},
{"p":6,"s":"A","x":0.2,"y":-34.5,"lo":-38,"hi":-31},
{"p":6,"s":"A","x":0.25,"y":-33.6,"lo":-37.1,"hi":-30.1},
{"p":6,"s":"A","x":0.3,"y":-34.9,"lo":-38.4,"hi":-31.4},
{"p":6,"s":"A","x":0.35,"y":-36.7,"lo":-40.2,"hi":-33.2},
{"p":6,"s":"A","x":0.4,"y":-34.9,"lo":-38.4,"hi":-31.4},
{"p":6,"s":"A","x":0.45,"y":-35.4,"lo":-38.9,"hi":-31.9},
{"p":6,"s":"A","x":0.5,"y":-36.7,"lo":-39.7,"hi":-33.7},
{"p":6,"s":"A","x":0.55,"y":-36.6,"lo":-39.1,"hi":-34.1},
{"p":6,"s":"A","x":0.6,"y":-36.9,"lo":-39.4,"hi":-34.4},
{"p":6,"s":"A","x":0.65,"y":-37.6,"lo":-40.1,"hi":-35.1},
{"p":6,"s":"A","x":0.7,"y":-37.4,"lo":-39.9,"hi":-34.9},
{"p":6,"s":"A","x":0.75,"y":-37.2,"lo":-39.7,"hi":-34.7},
{"p":6,"s":"A","x":0.8,"y":-37.5,"lo":-39.7,"hi":-35.3},
{"p":6,"s":"A","x":0.85,"y":-37.0,"lo":-39.2,"hi":-34.8},
{"p":6,"s":"A","x":0.9,"y":-38.1,"lo":-40.3,"hi":-35.9},
{"p":6,"s":"A","x":0.95,"y":-38.5,"lo":-40.5,"hi":-36.5},
{"p":6,"s":"A","x":1.0,"y":-39.4,"lo":-41.4,"hi":-37.4},
{"p":6,"s":"A","x":1.05,"y":-38.5,"lo":-40.5,"hi":-36.5},
{"p":6,"s":"A","x":1.1,"y":-38.9,"lo":-40.9,"hi":-36.9},
{"p":6,"s":"A","x":1.15,"y":-38.4,"lo":-40.4,"hi":-36.4},
{"p":6,"s":"A","x":1.2,"y":-38.1,"lo":-40.1,"hi":-36.1},
{"p":6,"s":"A","x":1.25,"y":-39.4,"lo":-41.4,"hi":-37.4},
{"p":6,"s":"A","x":1.3,"y":-39.0,"lo":-41.0,"hi":-37.0},
{"p":6,"s":"A","x":1.35,"y":-38.9,"lo":-40.9,"hi":-36.9},
{"p":6,"s":"A","x":1.4,"y":-39.9,"lo":-41.9,"hi":-37.9},
{"p":6,"s":"A","x":1.45,"y":-39.4,"lo":-41.4,"hi":-37.4},
{"p":6,"s":"A","x":1.5,"y":-39.0,"lo":-41.0,"hi":-37.0},
{"p":6,"s":"A","x":1.55,"y":-39.1,"lo":-41.1,"hi":-37.1},
{"p":6,"s":"A","x":1.6,"y":-38.9,"lo":-40.9,"hi":-36.9},
{"p":6,"s":"A","x":1.65,"y":-38.8,"lo":-40.8,"hi":-36.8},
{"p":6,"s":"A","x":1.7,"y":-38.7,"lo":-40.7,"hi":-36.7},
{"p":6,"s":"A","x":1.75,"y":-38.5,"lo":-40.5,"hi":-36.5},
{"p":6,"s":"A","x":1.8,"y":-38.9,"lo":-40.9,"hi":-36.9},
{"p":6,"s":"A","x":1.85,"y":-38.9,"lo":-40.9,"hi":-36.9},
{"p":6,"s":"A","x":1.9,"y":-39.2,"lo":-41.2,"hi":-37.2},
{"p":6,"s":"A","x":1.95,"y":-39.4,"lo":-41.4,"hi":-37.4},
{"p":6,"s":"A","x":2.0,"y":-39.0,"lo":-41.0,"hi":-37.0},
{"p":6,"s":"B","x":0.0,"y":-49.4,"lo":-52,"hi":-47},
{"p":6,"s":"B","x":0.02,"y":-48.5,"lo":-52,"hi":-45},
{"p":6,"s":"B","x":0.03,"y":-42,"lo":-47,"hi":-37},
{"p":6,"s":"B","x":0.04,"y":-35.8,"lo":-41,"hi":-31},
{"p":6,"s":"B","x":0.06,"y":-39,"lo":-44,"hi":-34},
{"p":6,"s":"B","x":0.08,"y":-38.7,"lo":-43.5,"hi":-34},
{"p":6,"s":"B","x":0.1,"y":-38.5,"lo":-43,"hi":-34},
{"p":6,"s":"B","x":0.15,"y":-37.6,"lo":-42,"hi":-33.2},
{"p":6,"s":"B","x":0.2,"y":-38.1,"lo":-42.5,"hi":-33.7},
{"p":6,"s":"B","x":0.25,"y":-39,"lo":-43,"hi":-35},
{"p":6,"s":"B","x":0.3,"y":-38.5,"lo":-42,"hi":-35},
{"p":6,"s":"B","x":0.35,"y":-39.4,"lo":-42.9,"hi":-35.9},
{"p":6,"s":"B","x":0.4,"y":-40.8,"lo":-44,"hi":-37.6},
{"p":6,"s":"B","x":0.45,"y":-39.9,"lo":-43,"hi":-36.8},
{"p":6,"s":"B","x":0.5,"y":-41.2,"lo":-44,"hi":-38.4},
{"p":6,"s":"B","x":0.55,"y":-39.9,"lo":-42.6,"hi":-37.2},
{"p":6,"s":"B","x":0.6,"y":-41.7,"lo":-44.4,"hi":-39},
{"p":6,"s":"B","x":0.65,"y":-42.2,"lo":-44.8,"hi":-39.6},
{"p":6,"s":"B","x":0.7,"y":-42.6,"lo":-45.1,"hi":-40.1},
{"p":6,"s":"B","x":0.75,"y":-42.6,"lo":-45.1,"hi":-40.1},
{"p":6,"s":"B","x":0.8,"y":-42.2,"lo":-44.7,"hi":-39.7},
{"p":6,"s":"B","x":0.85,"y":-44.0,"lo":-46.5,"hi":-41.5},
{"p":6,"s":"B","x":0.9,"y":-42.6,"lo":-45.1,"hi":-40.1},
{"p":6,"s":"B","x":0.95,"y":-43.4,"lo":-45.9,"hi":-40.9},
{"p":6,"s":"B","x":1.0,"y":-44.0,"lo":-46.5,"hi":-41.5},
{"p":6,"s":"B","x":1.05,"y":-44.4,"lo":-46.9,"hi":-41.9},
{"p":6,"s":"B","x":1.1,"y":-44.1,"lo":-46.6,"hi":-41.6},
{"p":6,"s":"B","x":1.15,"y":-43.8,"lo":-46.3,"hi":-41.3},
{"p":6,"s":"B","x":1.2,"y":-43.5,"lo":-46.0,"hi":-41.0},
{"p":6,"s":"B","x":1.25,"y":-45.3,"lo":-47.8,"hi":-42.8},
{"p":6,"s":"B","x":1.3,"y":-45.6,"lo":-48.1,"hi":-43.1},
{"p":6,"s":"B","x":1.35,"y":-45.8,"lo":-48.3,"hi":-43.3},
{"p":6,"s":"B","x":1.4,"y":-45.3,"lo":-47.8,"hi":-42.8},
{"p":6,"s":"B","x":1.45,"y":-46.2,"lo":-48.7,"hi":-43.7},
{"p":6,"s":"B","x":1.5,"y":-47.1,"lo":-49.6,"hi":-44.6},
{"p":6,"s":"B","x":1.55,"y":-46.5,"lo":-49.0,"hi":-44.0},
{"p":6,"s":"B","x":1.6,"y":-46.6,"lo":-49.1,"hi":-44.1},
{"p":6,"s":"B","x":1.65,"y":-46.5,"lo":-49.0,"hi":-44.0},
{"p":6,"s":"B","x":1.7,"y":-46.9,"lo":-49.4,"hi":-44.4},
{"p":6,"s":"B","x":1.75,"y":-46.7,"lo":-49.2,"hi":-44.2},
{"p":6,"s":"B","x":1.8,"y":-46.4,"lo":-48.9,"hi":-43.9},
{"p":6,"s":"B","x":1.85,"y":-46.2,"lo":-48.7,"hi":-43.7},
{"p":6,"s":"B","x":1.9,"y":-47.1,"lo":-49.6,"hi":-44.6},
{"p":6,"s":"B","x":1.95,"y":-46.3,"lo":-48.8,"hi":-43.8},
{"p":6,"s":"B","x":2.0,"y":-45.8,"lo":-48.3,"hi":-43.3},
{"p":7,"s":"A","x":0.04,"y":-70,"lo":-72,"hi":-68},
{"p":7,"s":"A","x":0.045,"y":-45,"lo":-48,"hi":-42},
{"p":7,"s":"A","x":0.05,"y":-36,"lo":-39,"hi":-33},
{"p":7,"s":"A","x":0.06,"y":-30,"lo":-32.5,"hi":-27.5},
{"p":7,"s":"A","x":0.067,"y":-28.3,"lo":-30.8,"hi":-25.8},
{"p":7,"s":"A","x":0.1,"y":-27.9,"lo":-30.4,"hi":-25.4},
{"p":7,"s":"A","x":0.13,"y":-26.5,"lo":-29,"hi":-24},
{"p":7,"s":"A","x":0.15,"y":-25.4,"lo":-27.9,"hi":-22.9},
{"p":7,"s":"A","x":0.2,"y":-23.5,"lo":-26,"hi":-21},
{"p":7,"s":"A","x":0.22,"y":-21.5,"lo":-24,"hi":-19},
{"p":7,"s":"A","x":0.25,"y":-18.4,"lo":-20.9,"hi":-15.9},
{"p":7,"s":"A","x":0.3,"y":-16.5,"lo":-18.5,"hi":-14.5},
{"p":7,"s":"A","x":0.35,"y":-13.9,"lo":-15.4,"hi":-12.4},
{"p":7,"s":"A","x":0.4,"y":-11.4,"lo":-12.6,"hi":-10.2},
{"p":7,"s":"A","x":0.45,"y":-9.6,"lo":-10.6,"hi":-8.6},
{"p":7,"s":"A","x":0.5,"y":-8.2,"lo":-9.0,"hi":-7.4},
{"p":7,"s":"A","x":0.55,"y":-7.7,"lo":-8.4,"hi":-7.0},
{"p":7,"s":"A","x":0.6,"y":-6.9,"lo":-7.6,"hi":-6.2},
{"p":7,"s":"A","x":0.65,"y":-6.2,"lo":-6.9,"hi":-5.5},
{"p":7,"s":"A","x":0.7,"y":-5.3,"lo":-6.0,"hi":-4.6},
{"p":7,"s":"A","x":0.75,"y":-4.8,"lo":-5.5,"hi":-4.1},
{"p":7,"s":"A","x":0.8,"y":-4.3,"lo":-5.0,"hi":-3.6},
{"p":7,"s":"A","x":0.85,"y":-3.8,"lo":-4.5,"hi":-3.1},
{"p":7,"s":"A","x":0.9,"y":-3.5,"lo":-4.2,"hi":-2.8},
{"p":7,"s":"A","x":0.95,"y":-3.1,"lo":-3.8,"hi":-2.4},
{"p":7,"s":"A","x":1.0,"y":-2.8,"lo":-3.5,"hi":-2.1},
{"p":7,"s":"A","x":1.05,"y":-2.7,"lo":-3.4,"hi":-2.0},
{"p":7,"s":"A","x":1.1,"y":-2.5,"lo":-3.2,"hi":-1.8},
{"p":7,"s":"A","x":1.15,"y":-1.7,"lo":-2.4,"hi":-1.0},
{"p":7,"s":"A","x":1.2,"y":-1.6,"lo":-2.3,"hi":-0.9},
{"p":7,"s":"A","x":1.25,"y":-1.6,"lo":-2.3,"hi":-0.9},
{"p":7,"s":"A","x":1.3,"y":-1.3,"lo":-2.0,"hi":-0.6},
{"p":7,"s":"A","x":1.35,"y":-1.0,"lo":-1.7,"hi":-0.3},
{"p":7,"s":"A","x":1.4,"y":-1.0,"lo":-1.7,"hi":-0.3},
{"p":7,"s":"A","x":1.45,"y":-0.9,"lo":-1.6,"hi":-0.2},
{"p":7,"s":"A","x":1.5,"y":-0.7,"lo":-1.4,"hi":0.0},
{"p":7,"s":"A","x":1.55,"y":-0.6,"lo":-1.3,"hi":0.1},
{"p":7,"s":"A","x":1.6,"y":-0.6,"lo":-1.3,"hi":0.1},
{"p":7,"s":"A","x":1.65,"y":-0.5,"lo":-1.2,"hi":0.2},
{"p":7,"s":"A","x":1.7,"y":-0.4,"lo":-1.1,"hi":0.3},
{"p":7,"s":"A","x":1.75,"y":-0.3,"lo":-1.0,"hi":0.4},
{"p":7,"s":"A","x":1.8,"y":-0.3,"lo":-1.0,"hi":0.4},
{"p":7,"s":"A","x":1.85,"y":-0.2,"lo":-0.9,"hi":0.5},
{"p":7,"s":"A","x":1.9,"y":-0.1,"lo":-0.8,"hi":0.6},
{"p":7,"s":"A","x":1.95,"y":0.0,"lo":-0.7,"hi":0.7},
{"p":7,"s":"A","x":2.0,"y":0.1,"lo":-0.6,"hi":0.8},
{"p":7,"s":"B","x":0.04,"y":-70,"lo":-72,"hi":-68},
{"p":7,"s":"B","x":0.045,"y":-46,"lo":-49,"hi":-43},
{"p":7,"s":"B","x":0.05,"y":-37,"lo":-40,"hi":-34},
{"p":7,"s":"B","x":0.06,"y":-30.5,"lo":-33,"hi":-28},
{"p":7,"s":"B","x":0.067,"y":-28.5,"lo":-31,"hi":-26},
{"p":7,"s":"B","x":0.1,"y":-27.6,"lo":-30.1,"hi":-25.1},
{"p":7,"s":"B","x":0.13,"y":-26.2,"lo":-28.7,"hi":-23.7},
{"p":7,"s":"B","x":0.15,"y":-25.0,"lo":-27.5,"hi":-22.5},
{"p":7,"s":"B","x":0.2,"y":-23.8,"lo":-26.3,"hi":-21.3},
{"p":7,"s":"B","x":0.22,"y":-21.8,"lo":-24.3,"hi":-19.3},
{"p":7,"s":"B","x":0.25,"y":-18.6,"lo":-21.1,"hi":-16.1},
{"p":7,"s":"B","x":0.3,"y":-16.4,"lo":-18.4,"hi":-14.4},
{"p":7,"s":"B","x":0.35,"y":-14.1,"lo":-15.6,"hi":-12.6},
{"p":7,"s":"B","x":0.4,"y":-11.5,"lo":-12.7,"hi":-10.3},
{"p":7,"s":"B","x":0.45,"y":-9.5,"lo":-10.5,"hi":-8.5},
{"p":7,"s":"B","x":0.5,"y":-8.1,"lo":-8.9,"hi":-7.3},
{"p":7,"s":"B","x":0.55,"y":-7.6,"lo":-8.3,"hi":-6.9},
{"p":7,"s":"B","x":0.6,"y":-7.0,"lo":-7.7,"hi":-6.3},
{"p":7,"s":"B","x":0.65,"y":-6.1,"lo":-6.8,"hi":-5.4},
{"p":7,"s":"B","x":0.7,"y":-5.4,"lo":-6.1,"hi":-4.7},
{"p":7,"s":"B","x":0.75,"y":-4.9,"lo":-5.6,"hi":-4.2},
{"p":7,"s":"B","x":0.8,"y":-4.2,"lo":-4.9,"hi":-3.5},
{"p":7,"s":"B","x":0.85,"y":-3.9,"lo":-4.6,"hi":-3.2},
{"p":7,"s":"B","x":0.9,"y":-3.4,"lo":-4.1,"hi":-2.7},
{"p":7,"s":"B","x":0.95,"y":-3.2,"lo":-3.9,"hi":-2.5},
{"p":7,"s":"B","x":1.0,"y":-2.9,"lo":-3.6,"hi":-2.2},
{"p":7,"s":"B","x":1.05,"y":-2.6,"lo":-3.3,"hi":-1.9},
{"p":7,"s":"B","x":1.1,"y":-2.4,"lo":-3.1,"hi":-1.7},
{"p":7,"s":"B","x":1.15,"y":-1.8,"lo":-2.5,"hi":-1.1},
{"p":7,"s":"B","x":1.2,"y":-1.5,"lo":-2.2,"hi":-0.8},
{"p":7,"s":"B","x":1.25,"y":-1.6,"lo":-2.3,"hi":-0.9},
{"p":7,"s":"B","x":1.3,"y":-1.2,"lo":-1.9,"hi":-0.5},
{"p":7,"s":"B","x":1.35,"y":-1.1,"lo":-1.8,"hi":-0.4},
{"p":7,"s":"B","x":1.4,"y":-1.0,"lo":-1.7,"hi":-0.3},
{"p":7,"s":"B","x":1.45,"y":-0.8,"lo":-1.5,"hi":-0.1},
{"p":7,"s":"B","x":1.5,"y":-0.7,"lo":-1.4,"hi":0.0},
{"p":7,"s":"B","x":1.55,"y":-0.7,"lo":-1.4,"hi":0.0},
{"p":7,"s":"B","x":1.6,"y":-0.5,"lo":-1.2,"hi":0.2},
{"p":7,"s":"B","x":1.65,"y":-0.5,"lo":-1.2,"hi":0.2},
{"p":7,"s":"B","x":1.7,"y":-0.4,"lo":-1.1,"hi":0.3},
{"p":7,"s":"B","x":1.75,"y":-0.3,"lo":-1.0,"hi":0.4},
{"p":7,"s":"B","x":1.8,"y":-0.2,"lo":-0.9,"hi":0.5},
{"p":7,"s":"B","x":1.85,"y":-0.2,"lo":-0.9,"hi":0.5},
{"p":7,"s":"B","x":1.9,"y":0.0,"lo":-0.7,"hi":0.7},
{"p":7,"s":"B","x":1.95,"y":0.0,"lo":-0.7,"hi":0.7},
{"p":7,"s":"B","x":2.0,"y":0.1,"lo":-0.6,"hi":0.8},
{"p":8,"s":"A","x":0.02,"y":-60.0,"lo":-60.5,"hi":-59.5},
{"p":8,"s":"A","x":0.05,"y":-59.5,"lo":-60.0,"hi":-59.0},
{"p":8,"s":"A","x":0.1,"y":-59.4,"lo":-59.9,"hi":-58.9},
{"p":8,"s":"A","x":0.15,"y":-58.95,"lo":-59.45,"hi":-58.45},
{"p":8,"s":"A","x":0.2,"y":-58.4,"lo":-58.9,"hi":-57.9},
{"p":8,"s":"A","x":0.25,"y":-57.3,"lo":-57.8,"hi":-56.8},
{"p":8,"s":"A","x":0.3,"y":-56.25,"lo":-56.75,"hi":-55.75},
{"p":8,"s":"A","x":0.35,"y":-55.6,"lo":-56.1,"hi":-55.1},
{"p":8,"s":"A","x":0.4,"y":-55.0,"lo":-55.5,"hi":-54.5},
{"p":8,"s":"A","x":0.45,"y":-54.9,"lo":-55.3,"hi":-54.5},
{"p":8,"s":"A","x":0.5,"y":-54.25,"lo":-54.65,"hi":-53.85},
{"p":8,"s":"A","x":0.55,"y":-54.1,"lo":-54.5,"hi":-53.7},
{"p":8,"s":"A","x":0.6,"y":-54.0,"lo":-54.4,"hi":-53.6},
{"p":8,"s":"A","x":0.65,"y":-53.75,"lo":-54.15,"hi":-53.35},
{"p":8,"s":"A","x":0.7,"y":-53.5,"lo":-53.9,"hi":-53.1},
{"p":8,"s":"A","x":0.75,"y":-53.4,"lo":-53.8,"hi":-53.0},
{"p":8,"s":"A","x":0.8,"y":-53.3,"lo":-53.7,"hi":-52.9},
{"p":8,"s":"A","x":0.85,"y":-53.1,"lo":-53.5,"hi":-52.7},
{"p":8,"s":"A","x":0.9,"y":-52.9,"lo":-53.3,"hi":-52.5},
{"p":8,"s":"A","x":0.95,"y":-52.8,"lo":-53.2,"hi":-52.4},
{"p":8,"s":"A","x":1.0,"y":-52.6,"lo":-53.0,"hi":-52.2},
{"p":8,"s":"A","x":1.05,"y":-52.7,"lo":-53.1,"hi":-52.3},
{"p":8,"s":"A","x":1.1,"y":-52.7,"lo":-53.1,"hi":-52.3},
{"p":8,"s":"A","x":1.15,"y":-52.55,"lo":-52.95,"hi":-52.15},
{"p":8,"s":"A","x":1.2,"y":-52.45,"lo":-52.85,"hi":-52.05},
{"p":8,"s":"A","x":1.25,"y":-52.55,"lo":-52.95,"hi":-52.15},
{"p":8,"s":"A","x":1.3,"y":-52.5,"lo":-52.9,"hi":-52.1},
{"p":8,"s":"A","x":1.35,"y":-52.45,"lo":-52.85,"hi":-52.05},
{"p":8,"s":"A","x":1.4,"y":-52.4,"lo":-52.8,"hi":-52.0},
{"p":8,"s":"A","x":1.45,"y":-52.35,"lo":-52.75,"hi":-51.95},
{"p":8,"s":"A","x":1.5,"y":-52.25,"lo":-52.65,"hi":-51.85},
{"p":8,"s":"A","x":1.55,"y":-52.3,"lo":-52.7,"hi":-51.9},
{"p":8,"s":"A","x":1.6,"y":-52.35,"lo":-52.75,"hi":-51.95},
{"p":8,"s":"A","x":1.65,"y":-52.2,"lo":-52.6,"hi":-51.8},
{"p":8,"s":"A","x":1.7,"y":-52.35,"lo":-52.75,"hi":-51.95},
{"p":8,"s":"A","x":1.75,"y":-52.45,"lo":-52.85,"hi":-52.05},
{"p":8,"s":"A","x":1.8,"y":-52.35,"lo":-52.75,"hi":-51.95},
{"p":8,"s":"A","x":1.85,"y":-52.35,"lo":-52.75,"hi":-51.95},
{"p":8,"s":"A","x":1.9,"y":-52.3,"lo":-52.7,"hi":-51.9},
{"p":8,"s":"A","x":1.95,"y":-52.25,"lo":-52.65,"hi":-51.85},
{"p":8,"s":"A","x":2.0,"y":-52.4,"lo":-52.8,"hi":-52.0},
{"p":8,"s":"B","x":0.02,"y":-60.1,"lo":-60.6,"hi":-59.6},
{"p":8,"s":"B","x":0.05,"y":-58.05,"lo":-58.55,"hi":-57.55},
{"p":8,"s":"B","x":0.08,"y":-56.4,"lo":-56.9,"hi":-55.9},
{"p":8,"s":"B","x":0.1,"y":-55.75,"lo":-56.25,"hi":-55.25},
{"p":8,"s":"B","x":0.15,"y":-55.7,"lo":-56.2,"hi":-55.2},
{"p":8,"s":"B","x":0.2,"y":-55.45,"lo":-55.95,"hi":-54.95},
{"p":8,"s":"B","x":0.25,"y":-55.2,"lo":-55.7,"hi":-54.7},
{"p":8,"s":"B","x":0.3,"y":-55.1,"lo":-55.5,"hi":-54.7},
{"p":8,"s":"B","x":0.35,"y":-54.8,"lo":-55.2,"hi":-54.4},
{"p":8,"s":"B","x":0.4,"y":-54.6,"lo":-55.0,"hi":-54.2},
{"p":8,"s":"B","x":0.45,"y":-54.4,"lo":-54.8,"hi":-54.0},
{"p":8,"s":"B","x":0.5,"y":-54.25,"lo":-54.65,"hi":-53.85},
{"p":8,"s":"B","x":0.55,"y":-54.1,"lo":-54.5,"hi":-53.7},
{"p":8,"s":"B","x":0.6,"y":-54.0,"lo":-54.4,"hi":-53.6},
{"p":8,"s":"B","x":0.65,"y":-53.9,"lo":-54.3,"hi":-53.5},
{"p":8,"s":"B","x":0.7,"y":-53.8,"lo":-54.2,"hi":-53.4},
{"p":8,"s":"B","x":0.75,"y":-53.65,"lo":-54.05,"hi":-53.25},
{"p":8,"s":"B","x":0.8,"y":-53.5,"lo":-53.9,"hi":-53.1},
{"p":8,"s":"B","x":0.85,"y":-53.4,"lo":-53.8,"hi":-53.0},
{"p":8,"s":"B","x":0.9,"y":-53.3,"lo":-53.7,"hi":-52.9},
{"p":8,"s":"B","x":0.95,"y":-53.0,"lo":-53.4,"hi":-52.6},
{"p":8,"s":"B","x":1.0,"y":-52.8,"lo":-53.2,"hi":-52.4},
{"p":8,"s":"B","x":1.05,"y":-52.9,"lo":-53.3,"hi":-52.5},
{"p":8,"s":"B","x":1.1,"y":-52.95,"lo":-53.35,"hi":-52.55},
{"p":8,"s":"B","x":1.15,"y":-53.0,"lo":-53.4,"hi":-52.6},
{"p":8,"s":"B","x":1.2,"y":-53.0,"lo":-53.4,"hi":-52.6},
{"p":8,"s":"B","x":1.25,"y":-52.85,"lo":-53.25,"hi":-52.45},
{"p":8,"s":"B","x":1.3,"y":-52.8,"lo":-53.2,"hi":-52.4},
{"p":8,"s":"B","x":1.35,"y":-52.9,"lo":-53.3,"hi":-52.5},
{"p":8,"s":"B","x":1.4,"y":-52.85,"lo":-53.25,"hi":-52.45},
{"p":8,"s":"B","x":1.45,"y":-52.7,"lo":-53.1,"hi":-52.3},
{"p":8,"s":"B","x":1.5,"y":-52.55,"lo":-52.95,"hi":-52.15},
{"p":8,"s":"B","x":1.55,"y":-52.6,"lo":-53.0,"hi":-52.2},
{"p":8,"s":"B","x":1.6,"y":-52.6,"lo":-53.0,"hi":-52.2},
{"p":8,"s":"B","x":1.65,"y":-52.5,"lo":-52.9,"hi":-52.1},
{"p":8,"s":"B","x":1.7,"y":-52.4,"lo":-52.8,"hi":-52.0},
{"p":8,"s":"B","x":1.75,"y":-52.5,"lo":-52.9,"hi":-52.1},
{"p":8,"s":"B","x":1.8,"y":-52.55,"lo":-52.95,"hi":-52.15},
{"p":8,"s":"B","x":1.85,"y":-52.45,"lo":-52.85,"hi":-52.05},
{"p":8,"s":"B","x":1.9,"y":-52.5,"lo":-52.9,"hi":-52.1},
{"p":8,"s":"B","x":1.95,"y":-52.4,"lo":-52.8,"hi":-52.0},
{"p":8,"s":"B","x":2.0,"y":-52.45,"lo":-52.85,"hi":-52.05}
]},
"columns": 4,
"spacing": {"row": 91, "column": 76},
"bounds": "flush",
"resolve": {"scale": {"x": "independent", "y": "independent", "color": "shared"}, "legend": {"color": "shared"}},
"concat": [
{"title": "Speaker-Listener", "width": 260, "height": 192, "layer": [
 {"data": {"name": "runs"}, "transform": [{"filter": "datum.p == 1"}], "mark": {"type": "area", "opacity": 0.2, "clip": true},
  "encoding": {"x": {"field": "x", "type": "quantitative", "scale": {"domain": [-0.1, 2.1], "nice": false, "zero": false}, "axis": {"title": null, "tickCount": 50, "labelOverlap": false, "values": [0,0.25,0.5,0.75,1,1.25,1.5,1.75,2], "format": ".2f"}},
   "y": {"field": "lo", "type": "quantitative", "scale": {"domain": [-40, 0], "nice": false, "zero": false}, "axis": {"title": "Reward", "titleFontSize": 20, "titlePadding": 2, "tickCount": 50, "labelOverlap": false, "format": "d", "values": [-40,-35,-30,-25,-20,-15,-10,-5,0]}},
   "y2": {"field": "hi"},
   "color": {"field": "s", "type": "nominal", "scale": {"domain": ["A","B"], "range": ["#55A868","#DD8452"]}, "legend": {"title": "\u00a0", "labelExpr": "datum.label == 'A' ? 'OMDDPG' : 'OMDDPG No Discrimination'"}}}},
 {"data": {"name": "runs"}, "transform": [{"filter": "datum.p == 1"}], "mark": {"type": "line", "strokeWidth": 1.3, "clip": true},
  "encoding": {"x": {"field": "x", "type": "quantitative"}, "y": {"field": "y", "type": "quantitative"},
   "color": {"field": "s", "type": "nominal", "scale": {"domain": ["A","B"], "range": ["#55A868","#DD8452"]}, "legend": {"title": "\u00a0", "labelExpr": "datum.label == 'A' ? 'OMDDPG' : 'OMDDPG No Discrimination'"}}}},
 {"data": {"values": [{"x": 2.1, "t": "1e6"}]}, "mark": {"type": "text", "align": "right", "baseline": "top", "dx": 4, "dy": 17, "fontSize": 7.5, "font": "Liberation Sans", "color": "#444444"},
  "encoding": {"x": {"field": "x", "type": "quantitative"}, "y": {"datum": -40}, "text": {"field": "t"}}}
]},
{"title": "Double Speaker-Listener", "width": 260, "height": 183, "layer": [
 {"data": {"name": "runs"}, "transform": [{"filter": "datum.p == 2"}], "mark": {"type": "area", "opacity": 0.2, "clip": true},
  "encoding": {"x": {"field": "x", "type": "quantitative", "scale": {"domain": [-0.1, 2.1], "nice": false, "zero": false}, "axis": {"title": null, "tickCount": 50, "labelOverlap": false, "values": [0,0.25,0.5,0.75,1,1.25,1.5,1.75,2], "format": ".2f"}},
   "y": {"field": "lo", "type": "quantitative", "scale": {"domain": [-60, -10], "nice": false, "zero": false}, "axis": {"title": null, "tickCount": 50, "labelOverlap": false, "format": "d", "values": [-60,-50,-40,-30,-20,-10]}},
   "y2": {"field": "hi"},
   "color": {"field": "s", "type": "nominal", "scale": {"domain": ["A","B"], "range": ["#55A868","#DD8452"]}, "legend": {"title": "\u00a0", "labelExpr": "datum.label == 'A' ? 'OMDDPG' : 'OMDDPG No Discrimination'"}}}},
 {"data": {"name": "runs"}, "transform": [{"filter": "datum.p == 2"}], "mark": {"type": "line", "strokeWidth": 1.3, "clip": true},
  "encoding": {"x": {"field": "x", "type": "quantitative"}, "y": {"field": "y", "type": "quantitative"},
   "color": {"field": "s", "type": "nominal", "scale": {"domain": ["A","B"], "range": ["#55A868","#DD8452"]}, "legend": {"title": "\u00a0", "labelExpr": "datum.label == 'A' ? 'OMDDPG' : 'OMDDPG No Discrimination'"}}}},
 {"data": {"values": [{"x": 2.1, "t": "1e6"}]}, "mark": {"type": "text", "align": "right", "baseline": "top", "dx": 4, "dy": 17, "fontSize": 7.5, "font": "Liberation Sans", "color": "#444444"},
  "encoding": {"x": {"field": "x", "type": "quantitative"}, "y": {"datum": -60}, "text": {"field": "t"}}}
]},
{"title": "Predator-Prey", "width": 260, "height": 183, "layer": [
 {"data": {"name": "runs"}, "transform": [{"filter": "datum.p == 3"}], "mark": {"type": "area", "opacity": 0.2, "clip": true},
  "encoding": {"x": {"field": "x", "type": "quantitative", "scale": {"domain": [-0.1, 2.1], "nice": false, "zero": false}, "axis": {"title": null, "tickCount": 50, "labelOverlap": false, "values": [0,0.25,0.5,0.75,1,1.25,1.5,1.75,2], "format": ".2f"}},
   "y": {"field": "lo", "type": "quantitative", "scale": {"domain": [-60, 10], "nice": false, "zero": false}, "axis": {"title": null, "tickCount": 50, "labelOverlap": false, "format": "d", "values": [-60,-50,-40,-30,-20,-10,0,10]}},
   "y2": {"field": "hi"},
   "color": {"field": "s", "type": "nominal", "scale": {"domain": ["A","B"], "range": ["#55A868","#DD8452"]}, "legend": {"title": "\u00a0", "labelExpr": "datum.label == 'A' ? 'OMDDPG' : 'OMDDPG No Discrimination'"}}}},
 {"data": {"name": "runs"}, "transform": [{"filter": "datum.p == 3"}], "mark": {"type": "line", "strokeWidth": 1.3, "clip": true},
  "encoding": {"x": {"field": "x", "type": "quantitative"}, "y": {"field": "y", "type": "quantitative"},
   "color": {"field": "s", "type": "nominal", "scale": {"domain": ["A","B"], "range": ["#55A868","#DD8452"]}, "legend": {"title": "\u00a0", "labelExpr": "datum.label == 'A' ? 'OMDDPG' : 'OMDDPG No Discrimination'"}}}},
 {"data": {"values": [{"x": 2.1, "t": "1e6"}]}, "mark": {"type": "text", "align": "right", "baseline": "top", "dx": 4, "dy": 17, "fontSize": 7.5, "font": "Liberation Sans", "color": "#444444"},
  "encoding": {"x": {"field": "x", "type": "quantitative"}, "y": {"datum": -60}, "text": {"field": "t"}}}
]},
{"title": "Spread", "width": 260, "height": 183, "layer": [
 {"data": {"name": "runs"}, "transform": [{"filter": "datum.p == 4"}], "mark": {"type": "area", "opacity": 0.2, "clip": true},
  "encoding": {"x": {"field": "x", "type": "quantitative", "scale": {"domain": [-0.1, 2.1], "nice": false, "zero": false}, "axis": {"title": null, "tickCount": 50, "labelOverlap": false, "values": [0,0.25,0.5,0.75,1,1.25,1.5,1.75,2], "format": ".2f"}},
   "y": {"field": "lo", "type": "quantitative", "scale": {"domain": [-60, -50], "nice": false, "zero": false}, "axis": {"title": null, "tickCount": 50, "labelOverlap": false, "format": "d", "values": [-60,-58,-56,-54,-52,-50]}},
   "y2": {"field": "hi"},
   "color": {"field": "s", "type": "nominal", "scale": {"domain": ["A","B"], "range": ["#55A868","#DD8452"]}, "legend": {"title": "\u00a0", "labelExpr": "datum.label == 'A' ? 'OMDDPG' : 'OMDDPG No Discrimination'"}}}},
 {"data": {"name": "runs"}, "transform": [{"filter": "datum.p == 4"}], "mark": {"type": "line", "strokeWidth": 1.3, "clip": true},
  "encoding": {"x": {"field": "x", "type": "quantitative"}, "y": {"field": "y", "type": "quantitative"},
   "color": {"field": "s", "type": "nominal", "scale": {"domain": ["A","B"], "range": ["#55A868","#DD8452"]}, "legend": {"title": "\u00a0", "labelExpr": "datum.label == 'A' ? 'OMDDPG' : 'OMDDPG No Discrimination'"}}}},
 {"data": {"values": [{"x": 2.1, "t": "1e6"}]}, "mark": {"type": "text", "align": "right", "baseline": "top", "dx": 4, "dy": 17, "fontSize": 7.5, "font": "Liberation Sans", "color": "#444444"},
  "encoding": {"x": {"field": "x", "type": "quantitative"}, "y": {"datum": -60}, "text": {"field": "t"}}}
]},
{"title": "Speaker-Listener", "width": 260, "height": 183, "layer": [
 {"data": {"name": "runs"}, "transform": [{"filter": "datum.p == 5"}], "mark": {"type": "area", "opacity": 0.2, "clip": true},
  "encoding": {"x": {"field": "x", "type": "quantitative", "scale": {"domain": [-0.1, 2.1], "nice": false, "zero": false}, "axis": {"title": "Time steps", "titleFontSize": 18, "titlePadding": 1, "tickCount": 50, "labelOverlap": false, "values": [0,0.25,0.5,0.75,1,1.25,1.5,1.75,2], "format": ".2f"}},
   "y": {"field": "lo", "type": "quantitative", "scale": {"domain": [-40, 0], "nice": false, "zero": false}, "axis": {"title": "Reward", "titleFontSize": 20, "titlePadding": 2, "tickCount": 50, "labelOverlap": false, "format": "d", "values": [-40,-35,-30,-25,-20,-15,-10,-5,0]}},
   "y2": {"field": "hi"},
   "color": {"field": "s", "type": "nominal", "scale": {"domain": ["A","B"], "range": ["#55A868","#DD8452"]}, "legend": {"title": "\u00a0", "labelExpr": "datum.label == 'A' ? 'OMDDPG' : 'OMDDPG No Discrimination'"}}}},
 {"data": {"name": "runs"}, "transform": [{"filter": "datum.p == 5"}], "mark": {"type": "line", "strokeWidth": 1.3, "clip": true},
  "encoding": {"x": {"field": "x", "type": "quantitative"}, "y": {"field": "y", "type": "quantitative"},
   "color": {"field": "s", "type": "nominal", "scale": {"domain": ["A","B"], "range": ["#55A868","#DD8452"]}, "legend": {"title": "\u00a0", "labelExpr": "datum.label == 'A' ? 'OMDDPG' : 'OMDDPG No Discrimination'"}}}},
 {"data": {"values": [{"x": 2.1, "t": "1e6"}]}, "mark": {"type": "text", "align": "right", "baseline": "top", "dx": 4, "dy": 17, "fontSize": 7.5, "font": "Liberation Sans", "color": "#444444"},
  "encoding": {"x": {"field": "x", "type": "quantitative"}, "y": {"datum": -40}, "text": {"field": "t"}}}
]},
{"title": "Double Speaker-Listener", "width": 260, "height": 183, "layer": [
 {"data": {"name": "runs"}, "transform": [{"filter": "datum.p == 6"}], "mark": {"type": "area", "opacity": 0.2, "clip": true},
  "encoding": {"x": {"field": "x", "type": "quantitative", "scale": {"domain": [-0.1, 2.1], "nice": false, "zero": false}, "axis": {"title": "Time steps", "titleFontSize": 18, "titlePadding": 1, "tickCount": 50, "labelOverlap": false, "values": [0,0.25,0.5,0.75,1,1.25,1.5,1.75,2], "format": ".2f"}},
   "y": {"field": "lo", "type": "quantitative", "scale": {"domain": [-60, -10], "nice": false, "zero": false}, "axis": {"title": null, "tickCount": 50, "labelOverlap": false, "format": "d", "values": [-60,-50,-40,-30,-20,-10]}},
   "y2": {"field": "hi"},
   "color": {"field": "s", "type": "nominal", "scale": {"domain": ["A","B"], "range": ["#55A868","#DD8452"]}, "legend": {"title": "\u00a0", "labelExpr": "datum.label == 'A' ? 'OMDDPG' : 'OMDDPG No Discrimination'"}}}},
 {"data": {"name": "runs"}, "transform": [{"filter": "datum.p == 6"}], "mark": {"type": "line", "strokeWidth": 1.3, "clip": true},
  "encoding": {"x": {"field": "x", "type": "quantitative"}, "y": {"field": "y", "type": "quantitative"},
   "color": {"field": "s", "type": "nominal", "scale": {"domain": ["A","B"], "range": ["#55A868","#DD8452"]}, "legend": {"title": "\u00a0", "labelExpr": "datum.label == 'A' ? 'OMDDPG' : 'OMDDPG No Discrimination'"}}}},
 {"data": {"values": [{"x": 2.1, "t": "1e6"}]}, "mark": {"type": "text", "align": "right", "baseline": "top", "dx": 4, "dy": 17, "fontSize": 7.5, "font": "Liberation Sans", "color": "#444444"},
  "encoding": {"x": {"field": "x", "type": "quantitative"}, "y": {"datum": -60}, "text": {"field": "t"}}}
]},
{"title": "Predator-Prey", "width": 260, "height": 183, "layer": [
 {"data": {"name": "runs"}, "transform": [{"filter": "datum.p == 7"}], "mark": {"type": "area", "opacity": 0.2, "clip": true},
  "encoding": {"x": {"field": "x", "type": "quantitative", "scale": {"domain": [-0.1, 2.1], "nice": false, "zero": false}, "axis": {"title": "Time steps", "titleFontSize": 18, "titlePadding": 1, "tickCount": 50, "labelOverlap": false, "values": [0,0.25,0.5,0.75,1,1.25,1.5,1.75,2], "format": ".2f"}},
   "y": {"field": "lo", "type": "quantitative", "scale": {"domain": [-60, 10], "nice": false, "zero": false}, "axis": {"title": null, "tickCount": 50, "labelOverlap": false, "format": "d", "values": [-60,-50,-40,-30,-20,-10,0,10]}},
   "y2": {"field": "hi"},
   "color": {"field": "s", "type": "nominal", "scale": {"domain": ["A","B"], "range": ["#55A868","#DD8452"]}, "legend": {"title": "\u00a0", "labelExpr": "datum.label == 'A' ? 'OMDDPG' : 'OMDDPG No Discrimination'"}}}},
 {"data": {"name": "runs"}, "transform": [{"filter": "datum.p == 7"}], "mark": {"type": "line", "strokeWidth": 1.3, "clip": true},
  "encoding": {"x": {"field": "x", "type": "quantitative"}, "y": {"field": "y", "type": "quantitative"},
   "color": {"field": "s", "type": "nominal", "scale": {"domain": ["A","B"], "range": ["#55A868","#DD8452"]}, "legend": {"title": "\u00a0", "labelExpr": "datum.label == 'A' ? 'OMDDPG' : 'OMDDPG No Discrimination'"}}}},
 {"data": {"values": [{"x": 2.1, "t": "1e6"}]}, "mark": {"type": "text", "align": "right", "baseline": "top", "dx": 4, "dy": 17, "fontSize": 7.5, "font": "Liberation Sans", "color": "#444444"},
  "encoding": {"x": {"field": "x", "type": "quantitative"}, "y": {"datum": -60}, "text": {"field": "t"}}}
]},
{"title": "Spread", "width": 260, "height": 183, "layer": [
 {"data": {"name": "runs"}, "transform": [{"filter": "datum.p == 8"}], "mark": {"type": "area", "opacity": 0.2, "clip": true},
  "encoding": {"x": {"field": "x", "type": "quantitative", "scale": {"domain": [-0.1, 2.1], "nice": false, "zero": false}, "axis": {"title": "Time steps", "titleFontSize": 18, "titlePadding": 1, "tickCount": 50, "labelOverlap": false, "values": [0,0.25,0.5,0.75,1,1.25,1.5,1.75,2], "format": ".2f"}},
   "y": {"field": "lo", "type": "quantitative", "scale": {"domain": [-60, -50], "nice": false, "zero": false}, "axis": {"title": null, "tickCount": 50, "labelOverlap": false, "format": "d", "values": [-60,-58,-56,-54,-52,-50]}},
   "y2": {"field": "hi"},
   "color": {"field": "s", "type": "nominal", "scale": {"domain": ["A","B"], "range": ["#55A868","#DD8452"]}, "legend": {"title": "\u00a0", "labelExpr": "datum.label == 'A' ? 'OMDDPG' : 'OMDDPG No Discrimination'"}}}},
 {"data": {"name": "runs"}, "transform": [{"filter": "datum.p == 8"}], "mark": {"type": "line", "strokeWidth": 1.3, "clip": true},
  "encoding": {"x": {"field": "x", "type": "quantitative"}, "y": {"field": "y", "type": "quantitative"},
   "color": {"field": "s", "type": "nominal", "scale": {"domain": ["A","B"], "range": ["#55A868","#DD8452"]}, "legend": {"title": "\u00a0", "labelExpr": "datum.label == 'A' ? 'OMDDPG' : 'OMDDPG No Discrimination'"}}}},
 {"data": {"values": [{"x": 2.1, "t": "1e6"}]}, "mark": {"type": "text", "align": "right", "baseline": "top", "dx": 4, "dy": 17, "fontSize": 7.5, "font": "Liberation Sans", "color": "#444444"},
  "encoding": {"x": {"field": "x", "type": "quantitative"}, "y": {"datum": -60}, "text": {"field": "t"}}}
]}
]
}
